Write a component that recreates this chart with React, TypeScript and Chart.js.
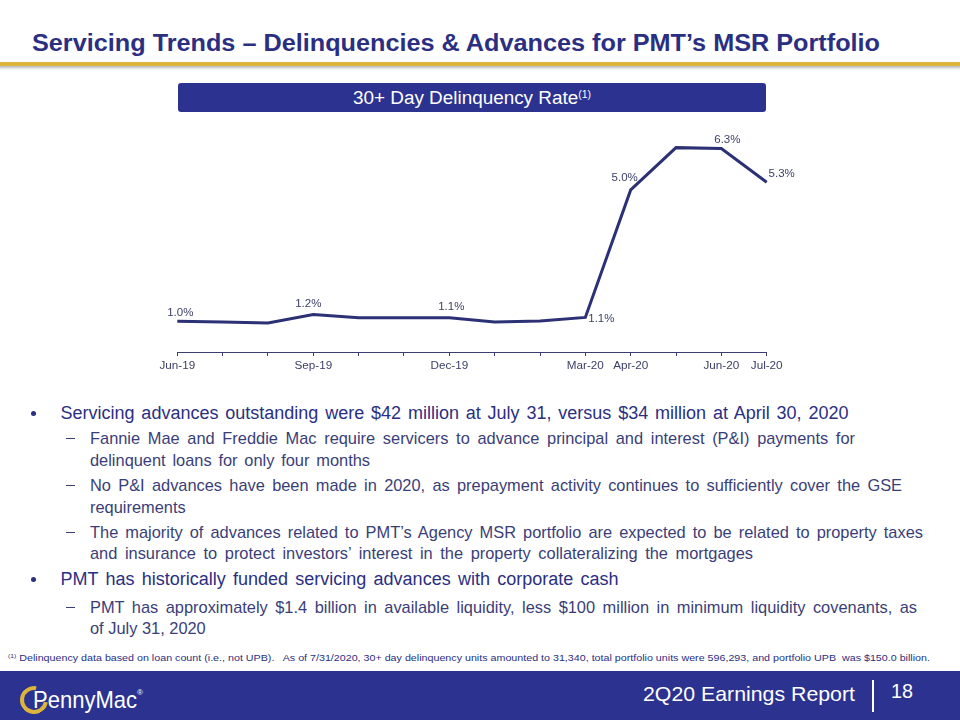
import React, { useEffect, useLayoutEffect, useRef } from 'react';
import { Chart, registerables } from 'chart.js';

Chart.register(...registerables);

// ---------- data ----------
const months = [
  'Jun-19', 'Jul-19', 'Aug-19', 'Sep-19', 'Oct-19', 'Nov-19', 'Dec-19',
  'Jan-20', 'Feb-20', 'Mar-20', 'Apr-20', 'May-20', 'Jun-20', 'Jul-20',
];
const tickLabels = [
  'Jun-19', '', '', 'Sep-19', '', '', 'Dec-19',
  '', '', 'Mar-20', 'Apr-20', '', 'Jun-20', 'Jul-20',
];
const delinquencyRate = [0.95, 0.93, 0.9, 1.16, 1.06, 1.06, 1.06, 0.93, 0.96, 1.07, 5.02, 6.33, 6.3, 5.26];
const valueLabels = ['1.0%', '', '', '1.2%', '', '', '1.1%', '', '', '1.1%', '5.0%', '', '6.3%', '5.3%'];

// ---------- styles ----------
const ARIAL = 'Arial, "Liberation Sans", Helvetica, sans-serif';
const NAVY = '#2b2f82';
const BAND = '#2c3290';
const LINE = '#2b3174';
const AXIS = '#3a3f6e';
const TICK = '#3b3f66';
const SUB = '#3a3e78';
const GOLD = '#dcb53a';

// label offsets (dx, dy) from the data point, in pixels
const labelOffsets: Record<number, [number, number]> = {
  0: [3, -8.5],
  3: [-5, -11],
  6: [2, -11],
  9: [16, 1],
  10: [-6, -12],
  12: [6, -9],
  13: [15, -8],
};

const valueLabelPlugin = {
  id: 'valueLabels',
  afterDatasetsDraw(chart: any) {
    const meta = chart.getDatasetMeta(0);
    const ctx = chart.ctx as CanvasRenderingContext2D;
    ctx.save();
    ctx.font = `11.5px ${ARIAL}`;
    ctx.fillStyle = TICK;
    ctx.textAlign = 'center';
    ctx.textBaseline = 'middle';
    meta.data.forEach((pt: any, i: number) => {
      const t = valueLabels[i];
      if (!t) return;
      const [dx, dy] = labelOffsets[i] || [0, -10];
      ctx.fillText(t, pt.x + dx, pt.y + dy);
    });
    ctx.restore();
  },
};

function DelinquencyChart() {
  const ref = useRef<HTMLCanvasElement>(null);
  useEffect(() => {
    if (!ref.current) return;
    const chart = new Chart(ref.current, {
      type: 'line',
      data: {
        labels: months,
        datasets: [
          {
            data: delinquencyRate,
            borderColor: LINE,
            borderWidth: 3,
            pointRadius: 0,
            tension: 0,
            fill: false,
          },
        ],
      },
      options: {
        animation: false,
        responsive: false,
        layout: { padding: { left: 37.3, right: 53.3, top: 12, bottom: 0 } },
        plugins: { legend: { display: false }, tooltip: { enabled: false } },
        scales: {
          x: {
            grid: { drawOnChartArea: false, drawTicks: true, tickLength: 4, color: AXIS, lineWidth: 1 },
            border: { display: true, color: AXIS, width: 1 },
            ticks: {
              autoSkip: false,
              maxRotation: 0,
              minRotation: 0,
              padding: 3,
              color: TICK,
              font: { family: ARIAL, size: 11.7 },
              callback: (_v: any, i: number) => tickLabels[i],
            },
            afterFit: (s: any) => {
              s.height = 30;
              s.paddingLeft = 0;
              s.paddingRight = 0;
            },
          },
          y: { display: false, min: 0, max: 7 },
        },
      },
      plugins: [valueLabelPlugin],
    } as any);
    return () => chart.destroy();
  }, []);
  return (
    <canvas
      ref={ref}
      width={680}
      height={268}
      style={{ position: 'absolute', left: 140, top: 114, width: 680, height: 268 }}
    />
  );
}

type LineProps = {
  left: number;
  centerY: number;
  width?: number;
  size: number;
  color: string;
  weight?: number | string;
  family?: string;
  mode?: 'space' | 'scale' | 'none';
  children: React.ReactNode;
};

function Line({ left, centerY, width, size, color, weight = 'normal', family = ARIAL, mode = 'none', children }: LineProps) {
  const ref = useRef<HTMLSpanElement>(null);
  useLayoutEffect(() => {
    const el = ref.current;
    if (!el || !width || mode === 'none') return;
    el.style.wordSpacing = '0px';
    el.style.transform = 'none';
    const natural = el.getBoundingClientRect().width;
    if (mode === 'space') {
      const text = el.textContent || '';
      const spaces = (text.match(/ /g) || []).length;
      if (spaces > 0) el.style.wordSpacing = (width - natural) / spaces + 'px';
    } else {
      el.style.transform = `scaleX(${width / natural})`;
    }
  }, [width, mode]);
  const lh = Math.round(size * 1.25);
  return (
    <span
      ref={ref}
      style={{
        position: 'absolute',
        left,
        top: centerY - lh / 2,
        fontSize: size,
        lineHeight: lh + 'px',
        color,
        fontWeight: weight as any,
        fontFamily: family,
        whiteSpace: 'nowrap',
        transformOrigin: 'left center',
        display: 'inline-block',
      }}
    >
      {children}
    </span>
  );
}

function Bullet({ y }: { y: number }) {
  return (
    <div
      style={{ position: 'absolute', left: 31, top: y - 2.5, width: 5, height: 5, borderRadius: '50%', background: NAVY }}
    />
  );
}

function Dash({ y }: { y: number }) {
  return <div style={{ position: 'absolute', left: 66, top: y, width: 9, height: 1.4, background: SUB }} />;
}

const MAIN_SIZE = 18;
const SUB_SIZE = 16.4;

export default function App() {
  return (
    <div
      style={{
        position: 'absolute',
        left: 0,
        top: 0,
        width: 960,
        height: 720,
        background: '#ffffff',
        overflow: 'hidden',
        fontFamily: ARIAL,
      }}
    >
      {/* Title */}
      <Line left={32} centerY={43.5} width={848} size={23} color={NAVY} weight="bold" mode="scale">
        Servicing Trends – Delinquencies &amp; Advances for PMT’s MSR Portfolio
      </Line>
      <div style={{ position: 'absolute', left: 0, top: 62, width: 960, height: 4, background: GOLD }} />
      <div
        style={{
          position: 'absolute',
          left: 0,
          top: 66,
          width: 960,
          height: 4,
          background: 'linear-gradient(#b9b9bd, rgba(255,255,255,0))',
        }}
      />

      {/* Chart title box */}
      <div
        style={{
          position: 'absolute',
          left: 178,
          top: 83,
          width: 588,
          height: 29,
          background: BAND,
          borderRadius: 3,
        }}
      />
      <Line left={353} centerY={98} width={238} size={18} color="#ffffff" mode="scale">
        30+ Day Delinquency Rate
        <span style={{ fontSize: 10, position: 'relative', top: -6 }}>(1)</span>
      </Line>

      <DelinquencyChart />

      {/* Bullets */}
      <Bullet y={413} />
      <Line left={60.5} centerY={413} width={788} size={MAIN_SIZE} color={NAVY} mode="space">
        Servicing advances outstanding were $42 million at July 31, versus $34 million at April 30, 2020
      </Line>

      <Dash y={438} />
      <Line left={90} centerY={438} width={765} size={SUB_SIZE} color={SUB} mode="space">
        Fannie Mae and Freddie Mac require servicers to advance principal and interest (P&amp;I) payments for
      </Line>
      <Line left={90} centerY={460} width={280} size={SUB_SIZE} color={SUB} mode="space">
        delinquent loans for only four months
      </Line>

      <Dash y={485} />
      <Line left={90} centerY={485} width={812} size={SUB_SIZE} color={SUB} mode="space">
        No P&amp;I advances have been made in 2020, as prepayment activity continues to sufficiently cover the GSE
      </Line>
      <Line left={90} centerY={507} size={SUB_SIZE} color={SUB}>
        requirements
      </Line>

      <Dash y={532} />
      <Line left={90} centerY={532} width={833} size={SUB_SIZE} color={SUB} mode="space">
        The majority of advances related to PMT’s Agency MSR portfolio are expected to be related to property taxes
      </Line>
      <Line left={90} centerY={553.5} width={663} size={SUB_SIZE} color={SUB} mode="space">
        and insurance to protect investors’ interest in the property collateralizing the mortgages
      </Line>

      <Bullet y={579} />
      <Line left={60.5} centerY={579} width={558} size={MAIN_SIZE} color={NAVY} mode="space">
        PMT has historically funded servicing advances with corporate cash
      </Line>

      <Dash y={607} />
      <Line left={90} centerY={607} width={827} size={SUB_SIZE} color={SUB} mode="space">
        PMT has approximately $1.4 billion in available liquidity, less $100 million in minimum liquidity covenants, as
      </Line>
      <Line left={90} centerY={628.5} size={SUB_SIZE} color={SUB}>
        of July 31, 2020
      </Line>

      {/* Footnote */}
      <Line left={8} centerY={658} width={922} size={9.5} color={NAVY} mode="scale">
        <span style={{ fontSize: 6, position: 'relative', top: -3 }}>(1)</span> Delinquency data based on loan count
        (i.e., not UPB).&nbsp;&nbsp; As of 7/31/2020, 30+ day delinquency units amounted to 31,340, total portfolio units
        were 596,293, and portfolio UPB&nbsp; was $150.0 billion.
      </Line>

      {/* Footer band */}
      <div style={{ position: 'absolute', left: 0, top: 671, width: 960, height: 49, background: BAND }} />
      <div
        style={{
          position: 'absolute',
          left: 20,
          top: 686,
          width: 20,
          height: 20,
          borderRadius: '50%',
          border: `4px solid ${GOLD}`,
          borderRightColor: 'transparent',
          transform: 'rotate(-35deg)',
        }}
      />
      <Line left={33} centerY={700} width={104} size={24} color="#ffffff" mode="scale">
        PennyMac
      </Line>
      <span
        style={{ position: 'absolute', left: 137, top: 688, fontSize: 8, color: '#ffffff', fontFamily: ARIAL }}
      >
        ®
      </span>
      <Line left={643} centerY={694} width={212} size={21} color="#ffffff" mode="scale">
        2Q20 Earnings Report
      </Line>
      <div style={{ position: 'absolute', left: 872, top: 680, width: 2, height: 32, background: '#ffffff' }} />
      <Line left={891} centerY={690.5} width={22} size={21} color="#ffffff" mode="scale">
        18
      </Line>
    </div>
  );
}
